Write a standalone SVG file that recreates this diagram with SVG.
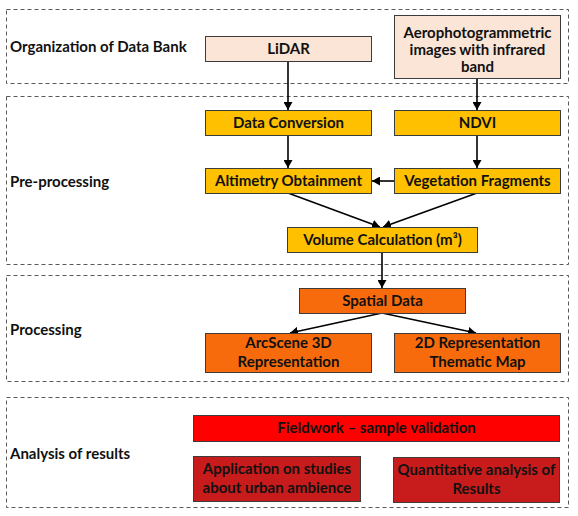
<svg xmlns="http://www.w3.org/2000/svg" width="578" height="516" viewBox="0 0 578 516">
  <defs>
    <marker id="arrow" markerUnits="userSpaceOnUse" markerWidth="9" markerHeight="9" refX="8" refY="4.5" orient="auto">
      <path d="M0,0 L8,4.5 L0,9 z" fill="#000"/>
    </marker>
    <style>
      .stage { fill: none; stroke: #5a5a5a; stroke-width: 1; stroke-dasharray: 4 3; }
      .stagelabel { font-family: "Lato", "Liberation Sans", sans-serif; font-weight: bold; font-size: 15px; fill: #111; }
      .box { stroke: #3c3c3c; stroke-width: 1; }
      .peach { fill: #fbe5d6; }
      .yellow { fill: #ffc000; }
      .orange { fill: #f86b0c; }
      .red { fill: #ff0000; }
      .dred { fill: #c81c1c; }
      .t { font-family: "Lato", "Liberation Sans", sans-serif; font-weight: bold; font-size: 15px; fill: #111; text-anchor: middle; }
      .conn { stroke: #000; stroke-width: 1.6; fill: none; marker-end: url(#arrow); }
    </style>
  </defs>
  <rect width="578" height="516" fill="#fff"/>

  <g id="stages">
    <g id="stage-organization">
      <rect class="stage" x="6.5" y="9.5" width="562" height="74"/>
      <text class="stagelabel" x="10" y="52">Organization of Data Bank</text>
    </g>
    <g id="stage-preprocessing">
      <rect class="stage" x="6.5" y="96.5" width="562" height="168"/>
      <text class="stagelabel" x="10" y="187">Pre-processing</text>
    </g>
    <g id="stage-processing">
      <rect class="stage" x="6.5" y="275.5" width="562" height="106"/>
      <text class="stagelabel" x="10" y="335">Processing</text>
    </g>
    <g id="stage-analysis">
      <rect class="stage" x="6.5" y="397.5" width="562" height="110"/>
      <text class="stagelabel" x="10" y="459">Analysis of results</text>
    </g>
  </g>

  <g id="connectors">
    <line class="conn" x1="288" y1="62" x2="288" y2="110"/>
    <line class="conn" x1="477" y1="79" x2="477" y2="110"/>
    <line class="conn" x1="288" y1="136" x2="288" y2="168"/>
    <line class="conn" x1="477" y1="135" x2="477" y2="168"/>
    <line class="conn" x1="394" y1="181" x2="372" y2="181"/>
    <line class="conn" x1="288" y1="193" x2="380" y2="227"/>
    <line class="conn" x1="477" y1="193" x2="383" y2="227"/>
    <line class="conn" x1="382" y1="252" x2="382" y2="288"/>
    <line class="conn" x1="382" y1="313" x2="290" y2="333"/>
    <line class="conn" x1="382" y1="313" x2="476" y2="333"/>
  </g>

  <g id="lidar">
    <rect class="box peach" x="205.5" y="36.5" width="166" height="25"/>
    <text class="t" x="288.5" y="54">LiDAR</text>
  </g>
  <g id="aero">
    <rect class="box peach" x="394.5" y="15.5" width="166" height="63"/>
    <text class="t" x="477.5" y="38">Aerophotogrammetric</text>
    <text class="t" x="477.5" y="55">images with infrared</text>
    <text class="t" x="477.5" y="72">band</text>
  </g>
  <g id="data-conversion">
    <rect class="box yellow" x="205.5" y="110.5" width="166" height="25"/>
    <text class="t" x="288.5" y="128">Data Conversion</text>
  </g>
  <g id="ndvi">
    <rect class="box yellow" x="394.5" y="110.5" width="166" height="25"/>
    <text class="t" x="477.5" y="128">NDVI</text>
  </g>
  <g id="altimetry">
    <rect class="box yellow" x="205.5" y="168.5" width="166" height="25"/>
    <text class="t" x="288.5" y="186">Altimetry Obtainment</text>
  </g>
  <g id="vegetation">
    <rect class="box yellow" x="394.5" y="168.5" width="166" height="25"/>
    <text class="t" x="477.5" y="186">Vegetation Fragments</text>
  </g>
  <g id="volume">
    <rect class="box yellow" x="287.5" y="227.5" width="190" height="25"/>
    <text class="t" x="382.5" y="245">Volume Calculation (m³)</text>
  </g>
  <g id="spatial">
    <rect class="box orange" x="299.5" y="288.5" width="166" height="25"/>
    <text class="t" x="382.5" y="306">Spatial Data</text>
  </g>
  <g id="arcscene">
    <rect class="box orange" x="205.5" y="333.5" width="166" height="39"/>
    <text class="t" x="288.5" y="348">ArcScene 3D</text>
    <text class="t" x="288.5" y="367">Representation</text>
  </g>
  <g id="representation-2d">
    <rect class="box orange" x="394.5" y="333.5" width="166" height="39"/>
    <text class="t" x="477.5" y="348">2D Representation</text>
    <text class="t" x="477.5" y="367">Thematic Map</text>
  </g>
  <g id="fieldwork">
    <rect class="box red" x="193.5" y="415.5" width="366" height="26"/>
    <text class="t" x="376.5" y="433">Fieldwork – sample validation</text>
  </g>
  <g id="application">
    <rect class="box dred" x="193.5" y="456.5" width="167" height="45"/>
    <text class="t" x="277" y="474">Application on studies</text>
    <text class="t" x="277" y="493">about urban ambience</text>
  </g>
  <g id="quantitative">
    <rect class="box dred" x="393.5" y="457.5" width="166" height="45"/>
    <text class="t" x="476.5" y="475">Quantitative analysis of</text>
    <text class="t" x="476.5" y="494">Results</text>
  </g>
</svg>
